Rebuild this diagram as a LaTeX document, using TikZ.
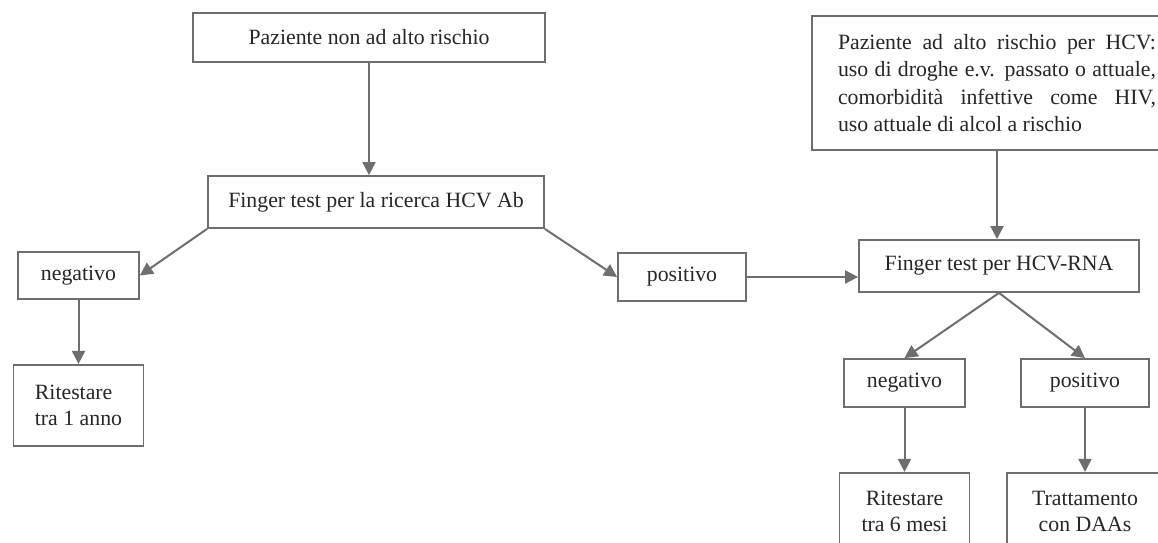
\documentclass[tikz,border=0pt]{standalone}
\usepackage{fontspec}
\setmainfont{Liberation Serif}
\usetikzlibrary{arrows.meta,positioning}

\definecolor{linegray}{HTML}{6E6E6E}
\definecolor{textgray}{HTML}{262626}

\begin{document}
\begin{tikzpicture}
        [x=0.5pt, y=-0.5pt, node distance=32pt,
         box/.style={draw=linegray, line width=0.9pt, text=textgray, inner sep=0pt,
                     font=\fontsize{10.9}{13}\selectfont, align=center},
         post/.style={-{Triangle[length=6.5pt, width=6.5pt]}, draw=linegray, line width=1pt}]

        \useasboundingbox (0,0) rectangle (1158,542);
        \clip (0,0) rectangle (1158,542);

        % left branch
        \node[box, minimum width=176pt, minimum height=24.5pt] (nonrischio) at (369,37.5) {Paziente non ad alto rischio};
        \node[box, minimum width=168pt, minimum height=26pt] (fingerAb) at (376,202) {Finger test per la ricerca HCV Ab};
        \node[box, minimum width=60.5pt, minimum height=23.5pt] (negL) at (78.5,275.5) {negativo};
        \node[box, align=left, minimum width=65pt, minimum height=40.5pt] (ritestare1) [below=of negL] {Ritestare\\tra 1 anno};
        \node[box, minimum width=64pt, minimum height=24pt] (posM) at (682,277) {positivo};

        % right branch
        \node[box, align=left, inner xsep=10.5pt, minimum width=185pt, minimum height=67pt,
              font=\fontsize{10.9}{13.8}\selectfont] (altorischio) at (997,83)
              {\makebox[159pt][s]{Paziente ad alto rischio per HCV:}\\
               \makebox[159pt][s]{uso di droghe e.v. passato o attuale,}\\
               \makebox[159pt][s]{comorbidità infettive come HIV,}\\
               uso attuale di alcol a rischio};
        \node[box, minimum width=140pt, minimum height=26pt] (fingerRNA) at (999,266) {Finger test per HCV-RNA};
        \node[box, minimum width=60.5pt, minimum height=24pt] (negR) at (904.5,383) {negativo};
        \node[box, minimum width=64pt, minimum height=24pt] (posR) at (1085,383) {positivo};
        \node[box, minimum width=65pt, minimum height=39pt] (ritestare6) [below=of negR] {Ritestare\\tra 6 mesi};
        \node[box, minimum width=78pt, minimum height=39pt] (trattamento) [below=of posR] {Trattamento\\con DAAs};

        \draw[post] (nonrischio.south) -- (nonrischio.south |- fingerAb.north);
        \draw[post] (fingerAb.south west) -- (negL.east);
        \draw[post] (fingerAb.south east) -- (posM.west);
        \draw[post] (negL) -- (ritestare1);
        \draw[post] (posM.east) -- (posM.east -| fingerRNA.west);
        \draw[post] (altorischio.south) -- (altorischio.south |- fingerRNA.north);
        \draw[post] (fingerRNA.south) -- (negR.north);
        \draw[post] (fingerRNA.south) -- (posR.north);
        \draw[post] (negR) -- (ritestare6);
        \draw[post] (posR) -- (trattamento);
\end{tikzpicture}
\end{document}
